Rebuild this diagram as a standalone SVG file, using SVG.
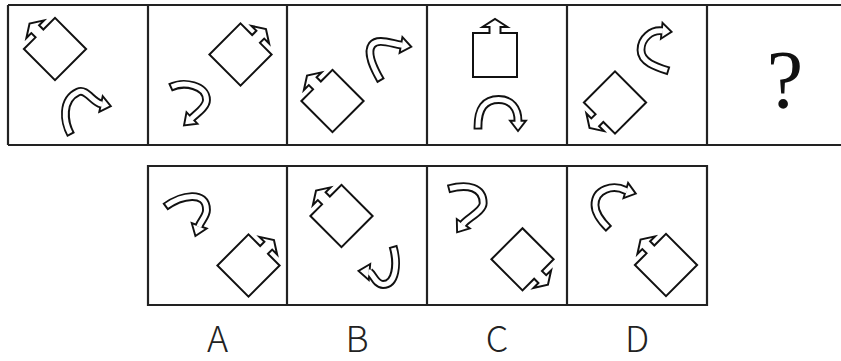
<svg xmlns="http://www.w3.org/2000/svg" width="841" height="361" viewBox="0 0 841 361">
<style>
.frame{fill:none;stroke:#222;stroke-width:2.2}
.shape{fill:#fff;stroke:#111;stroke-width:2;stroke-linejoin:miter}
.band{fill:none;stroke:#111;stroke-width:8.8;stroke-linecap:butt;stroke-linejoin:round}
.bandin{fill:none;stroke:#fff;stroke-width:5;stroke-linecap:butt;stroke-linejoin:round}
.head{fill:#fff;stroke:#111;stroke-width:1.9;stroke-linejoin:miter}
.q{font-family:"Liberation Serif","Times New Roman",serif;font-size:82px;fill:#111;text-anchor:middle}
.lbl{font-family:"Noto Sans CJK SC","Noto Sans",sans-serif;font-weight:300;font-size:36px;fill:#222;text-anchor:middle}
</style>
<defs>
<path id="house" d="M -22 -22 L -5.5 -22 L -5.5 -28 L -12.5 -28 L 0 -36 L 12.5 -28 L 5.5 -28 L 5.5 -22 L 22 -22 L 22 22 L -22 22 Z"/>
</defs>
<rect width="841" height="361" fill="#fff"/>
<g id="grid">
<path class="frame" d="M 8 5 H 842 M 8 145 H 842 M 8 5 V 145 M 148 5 V 145 M 287 5 V 145 M 427 5 V 145 M 567 5 V 145 M 707 5 V 145"/>
<path class="frame" d="M 148 166 H 707 V 305 H 148 Z M 287 166 V 305 M 427 166 V 305 M 567 166 V 305"/>
</g>
<g id="cell1">
<use href="#house" class="shape" transform="translate(55,49) rotate(-45)"/>
<path class="band" d="M 71 135 C 64 122 61 100 78 92 C 86.2 88.2 92.7 102.2 101 104"/>
<polygon class="head" points="99.3,111.8 110.8,106.1 102.7,96.2"/>
<path class="bandin" d="M 70.1 133.2 C 64 122 61 100 78 92 C 86.2 88.2 92.7 102.2 101 104 L 102.2 104.25"/>
</g>
<g id="cell2">
<use href="#house" class="shape" transform="translate(240.5,54.5) rotate(45)"/>
<path class="band" d="M 170 87.5 C 184 81 206.5 85 206.5 100 C 206.5 107 197.1 113.2 192 118"/>
<polygon class="head" points="186.5,112.2 184,125.5 197.5,123.8"/>
<path class="bandin" d="M 171.8 86.7 C 184 81 206.5 85 206.5 100 C 206.5 107 197.1 113.2 192 118 L 191.1 118.8"/>
</g>
<g id="cell3">
<use href="#house" class="shape" transform="translate(332.5,101) rotate(-45)"/>
<path class="band" d="M 381 81 C 374 68.8 366 53 372 45 C 377.1 38.2 389.2 42.9 401 45"/>
<polygon class="head" points="399.6,52.9 411.3,46.8 402.4,37.1"/>
<path class="bandin" d="M 380 79.3 C 374 68.8 366 53 372 45 C 377.1 38.2 389.2 42.9 401 45 L 402.2 45.2"/>
</g>
<g id="cell4">
<use href="#house" class="shape" transform="translate(495,55)"/>
<path class="band" d="M 478 129.5 C 477.5 108 485 99.5 498.7 99.5 C 511 99.5 518 108 518 120.7"/>
<polygon class="head" points="510,120.7 518,131 526,120.7"/>
<path class="bandin" d="M 478 127.6 C 477.5 108 485 99.5 498.7 99.5 C 511 99.5 518 108 518 120.7 L 518 121.9"/>
</g>
<g id="cell5">
<use href="#house" class="shape" transform="translate(615,102.5) rotate(-135)"/>
<path class="band" d="M 669 71 C 655.7 66.8 641 62 641 50 C 641 38 651.7 29.8 661.7 30.8"/>
<polygon class="head" points="660.9,38.8 671.6,31.8 662.5,22.8"/>
<path class="bandin" d="M 667.2 70.4 C 655.7 66.8 641 62 641 50 C 641 38 651.7 29.8 661.7 30.8 L 662.9 30.9"/>
</g>
<g id="cell6">
<text class="q" x="785" y="107">?</text>
</g>
<g id="optionA">
<use href="#house" class="shape" transform="translate(248.5,265.5) rotate(45)"/>
<path class="band" d="M 165 207 C 181.2 195.2 206.5 190 206.5 210 C 206.5 216 200.9 221.1 199.2 225.8"/>
<polygon class="head" points="191.7,223.1 195.4,236.1 206.7,228.5"/>
<path class="bandin" d="M 166.6 205.8 C 181.2 195.2 206.5 190 206.5 210 C 206.5 216 200.9 221.1 199.2 225.8 L 198.8 226.9"/>
<text class="lbl" x="217.5" y="352">A</text>
</g>
<g id="optionB">
<use href="#house" class="shape" transform="translate(341.5,216) rotate(-45)"/>
<path class="band" d="M 393 246 C 398 264 396 284.5 383 284.5 C 376 284.5 373.5 275 369.5 272"/>
<polygon class="head" points="370.2,264 358.5,271 368.8,280"/>
<path class="bandin" d="M 393.5 247.8 C 398 264 396 284.5 383 284.5 C 376 284.5 373.5 275 369.5 272 L 368.3 271.9"/>
<text class="lbl" x="357" y="352">B</text>
</g>
<g id="optionC">
<use href="#house" class="shape" transform="translate(522.5,259.3) rotate(135)"/>
<path class="band" d="M 448 189 C 467.6 183.8 483.2 187 483.2 203.3 C 483.2 211 467.4 218.1 463.3 223.8"/>
<polygon class="head" points="456.8,219.1 457.1,232.3 469.8,228.5"/>
<path class="bandin" d="M 449.8 188.5 C 467.6 183.8 483.2 187 483.2 203.3 C 483.2 211 467.4 218.1 463.3 223.8 L 462.6 224.8"/>
<text class="lbl" x="497" y="352">C</text>
</g>
<g id="optionD">
<use href="#house" class="shape" transform="translate(666,265) rotate(-45)"/>
<path class="band" d="M 609 229 C 601.9 221.9 595 213 595 205 C 595 189 613 184 625.8 190.5"/>
<polygon class="head" points="623.5,198.1 635.8,193.6 628.1,182.9"/>
<path class="bandin" d="M 607.6 227.6 C 601.9 221.9 595 213 595 205 C 595 189 613 184 625.8 190.5 L 627 190.9"/>
<text class="lbl" x="637" y="352">D</text>
</g>
<g id="connectors"/>
</svg>
